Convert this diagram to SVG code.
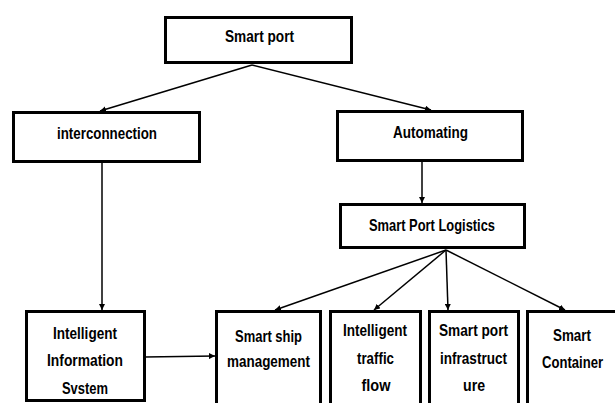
<svg xmlns="http://www.w3.org/2000/svg" width="615" height="403" viewBox="0 0 615 403">
<style>
.box{fill:#fff;stroke:#000;stroke-width:3}
.lbl{font-family:"Liberation Sans",Arial,sans-serif;font-weight:bold;font-size:17px;fill:#000;text-anchor:middle}
.conn{stroke:#000;stroke-width:1.5;fill:none;marker-end:url(#arr)}
</style>
<defs>
<marker id="arr" viewBox="0 0 10 10" refX="10" refY="5" markerWidth="6" markerHeight="6" markerUnits="userSpaceOnUse" orient="auto">
<path d="M0,0 L10,5 L0,10 z" fill="#000"/>
</marker>
</defs>
<rect width="615" height="403" fill="#fff"/>
<g id="smart-port">
<rect class="box" x="165.5" y="17.5" width="186" height="45"/>
<text class="lbl" x="259.5" y="42" textLength="69" lengthAdjust="spacingAndGlyphs">Smart port</text>
</g>
<g id="interconnection">
<rect class="box" x="13.5" y="112.5" width="186" height="49"/>
<text class="lbl" x="107" y="139" textLength="100" lengthAdjust="spacingAndGlyphs">interconnection</text>
</g>
<g id="automating">
<rect class="box" x="337.5" y="111.5" width="185" height="49"/>
<text class="lbl" x="430.5" y="138" textLength="75" lengthAdjust="spacingAndGlyphs">Automating</text>
</g>
<g id="smart-port-logistics">
<rect class="box" x="340.5" y="204.5" width="184" height="43"/>
<text class="lbl" x="432" y="231" textLength="126" lengthAdjust="spacingAndGlyphs">Smart Port Logistics</text>
</g>
<g id="intelligent-information-system">
<rect class="box" x="26.5" y="311.5" width="118" height="89"/>
<text class="lbl" x="85" y="339" textLength="64" lengthAdjust="spacingAndGlyphs">Intelligent</text>
<text class="lbl" x="85" y="366" textLength="76" lengthAdjust="spacingAndGlyphs">Information</text>
<text class="lbl" x="85" y="393.5" textLength="46" lengthAdjust="spacingAndGlyphs">Svstem</text>
</g>
<g id="smart-ship-management">
<rect class="box" x="216.5" y="311.5" width="104" height="120"/>
<text class="lbl" x="268.5" y="342" textLength="67" lengthAdjust="spacingAndGlyphs">Smart ship</text>
<text class="lbl" x="268.5" y="367" textLength="83" lengthAdjust="spacingAndGlyphs">management</text>
</g>
<g id="intelligent-traffic-flow">
<rect class="box" x="330.5" y="311.5" width="90" height="120"/>
<text class="lbl" x="375" y="336" textLength="64" lengthAdjust="spacingAndGlyphs">Intelligent</text>
<text class="lbl" x="375.5" y="364" textLength="37" lengthAdjust="spacingAndGlyphs">traffic</text>
<text class="lbl" x="376" y="391" textLength="29" lengthAdjust="spacingAndGlyphs">flow</text>
</g>
<g id="smart-port-infrastructure">
<rect class="box" x="429.5" y="311.5" width="89" height="120"/>
<text class="lbl" x="473.5" y="336" textLength="69" lengthAdjust="spacingAndGlyphs">Smart port</text>
<text class="lbl" x="473.5" y="364" textLength="67" lengthAdjust="spacingAndGlyphs">infrastruct</text>
<text class="lbl" x="474" y="391" textLength="22" lengthAdjust="spacingAndGlyphs">ure</text>
</g>
<g id="smart-container">
<rect class="box" x="527.5" y="311.5" width="120" height="120"/>
<text class="lbl" x="572" y="341" textLength="38" lengthAdjust="spacingAndGlyphs">Smart</text>
<text class="lbl" x="572.5" y="367.5" textLength="61" lengthAdjust="spacingAndGlyphs">Container</text>
</g>
<g id="connectors">
<line class="conn" x1="252" y1="65" x2="100" y2="111"/>
<line class="conn" x1="252" y1="65" x2="431" y2="110"/>
<line class="conn" x1="102" y1="163" x2="102" y2="310"/>
<line class="conn" x1="422" y1="162" x2="422" y2="203"/>
<line class="conn" x1="446" y1="250" x2="275" y2="310"/>
<line class="conn" x1="446" y1="250" x2="374" y2="310"/>
<line class="conn" x1="446" y1="250" x2="448" y2="310"/>
<line class="conn" x1="446" y1="250" x2="565" y2="310"/>
<line class="conn" x1="145" y1="357" x2="215" y2="356"/>
</g>
</svg>
